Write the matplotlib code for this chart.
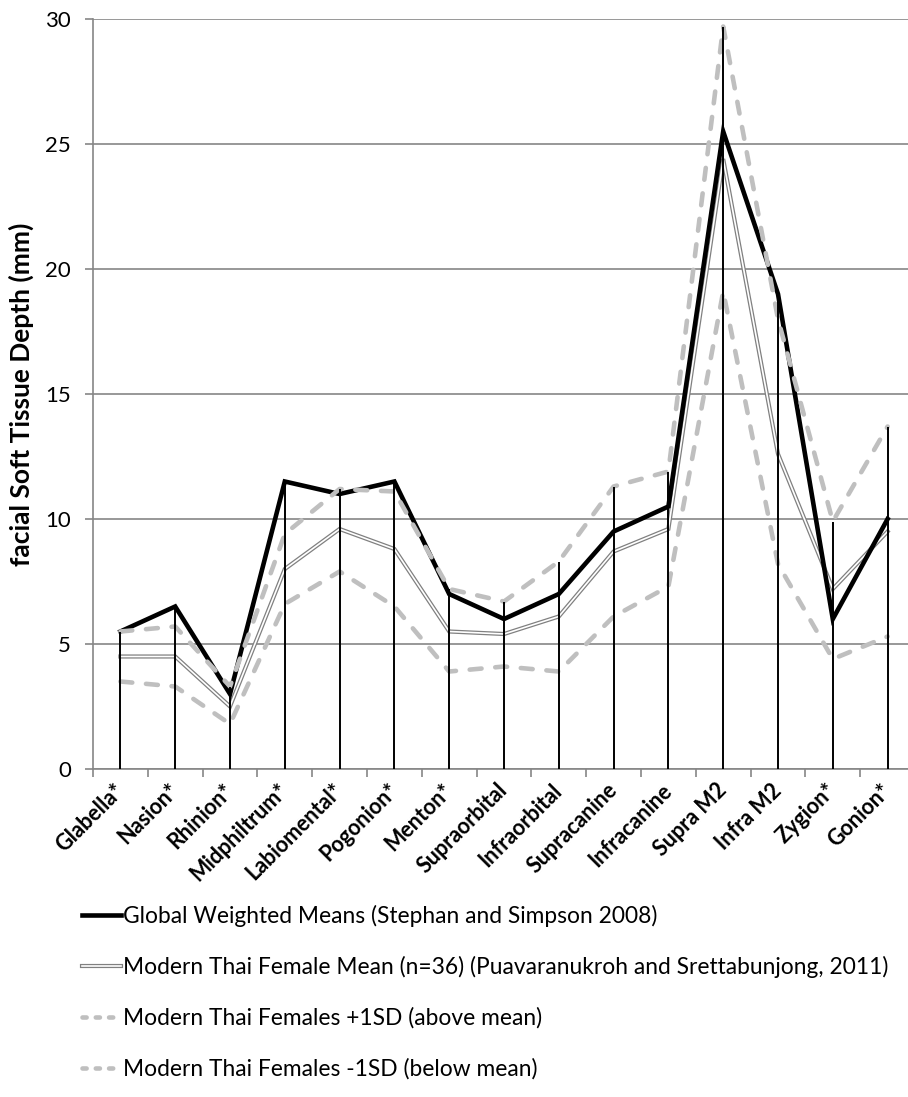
import matplotlib
matplotlib.use("Agg")
import matplotlib.pyplot as plt
from matplotlib.legend_handler import HandlerTuple
from matplotlib.lines import Line2D
import numpy as np

plt.rcParams['font.family'] = ['Lato', 'DejaVu Sans']

# Landmarks (asterisk = significant difference)
landmarks = ["Glabella*", "Nasion*", "Rhinion*", "Midphiltrum*", "Labiomental*",
             "Pogonion*", "Menton*", "Supraorbital", "Infraorbital", "Supracanine",
             "Infracanine", "Supra M2", "Infra M2", "Zygion*", "Gonion*"]

# Soft tissue depths (mm)
global_means = [5.5, 6.5, 3.0, 11.5, 11.0, 11.5, 7.0, 6.0, 7.0, 9.5, 10.5, 25.5, 19.0, 6.0, 10.0]
thai_mean = [4.5, 4.5, 2.5, 8.0, 9.6, 8.8, 5.5, 5.4, 6.1, 8.7, 9.6, 24.4, 12.6, 7.2, 9.5]
thai_plus_sd = [5.5, 5.7, 3.3, 9.4, 11.2, 11.1, 7.2, 6.7, 8.3, 11.3, 11.9, 29.7, 18.0, 9.9, 13.7]
thai_minus_sd = [3.5, 3.3, 1.8, 6.6, 7.9, 6.5, 3.9, 4.1, 3.9, 6.1, 7.3, 19.1, 8.2, 4.4, 5.3]

y_ticks = [0, 5, 10, 15, 20, 25, 30]

labels = ["Global Weighted Means (Stephan and Simpson 2008)",
          "Modern Thai Female Mean (n=36) (Puavaranukroh and Srettabunjong, 2011)",
          "Modern Thai Females +1SD (above mean)",
          "Modern Thai Females -1SD (below mean)"]

GRID = "#868686"
LIGHT = "#BFBFBF"
MID = "#808080"
FS_TICK = 16
FS_CAT = 15.5
FS_LEG = 16.4
FS_YLAB = 19

W, H = 908, 1097
fig = plt.figure(figsize=(W / 100, H / 100), dpi=100)
ax = fig.add_axes([93 / W, (H - 769) / H, 822 / W, 750 / H])

x = np.arange(len(landmarks))

ax.set_xlim(-0.5, len(landmarks) - 0.5)
ax.set_ylim(0, 30)
ax.set_yticks(y_ticks)
ax.yaxis.grid(True, color=GRID, lw=1.2, zorder=0)
ax.set_axisbelow(True)

for s in ["top", "right"]:
    ax.spines[s].set_visible(False)
for s in ["left", "bottom"]:
    ax.spines[s].set_color(GRID)
    ax.spines[s].set_linewidth(1.2)

ax.tick_params(axis="y", length=6, width=1.2, color=GRID, labelsize=FS_TICK, pad=10)
ax.set_xticks(x)
ax.set_xticks(np.arange(-0.5, len(landmarks), 1.0), minor=True)
ax.tick_params(axis="x", which="major", length=0, pad=13)
ax.tick_params(axis="x", which="minor", length=6, width=1.2, color=GRID)
ax.set_xticklabels(landmarks, rotation=45, ha="right", va="center",
                   rotation_mode="anchor", fontsize=FS_CAT, fontweight="bold")

ax.set_ylabel("facial Soft Tissue Depth (mm)", fontsize=FS_YLAB, fontweight="bold", labelpad=8)

# Series
l_global, = ax.plot(x, global_means, color="black", lw=3.3, solid_joinstyle="miter", zorder=3)
l_thai_o, = ax.plot(x, thai_mean, color=MID, lw=3.0, solid_joinstyle="miter", zorder=2)
l_thai_i, = ax.plot(x, thai_mean, color="white", lw=1.2, solid_joinstyle="miter", zorder=2.1)
ax.plot(x, thai_plus_sd, color=LIGHT, lw=3.3, dashes=(2.6, 3.0),
        dash_capstyle="round", zorder=4)
ax.plot(x, thai_minus_sd, color=LIGHT, lw=3.3, dashes=(2.6, 3.0),
        dash_capstyle="round", zorder=4)

# High-low lines from the baseline to the highest series value
tops = np.max(np.vstack([global_means, thai_mean, thai_plus_sd, thai_minus_sd]), axis=0)
ax.vlines(x, 0, tops, color="black", lw=1.4, zorder=5)

# Legend keys for the dashed series use a shorter dash so three dashes fit
key_dash = dict(color=LIGHT, lw=3.3, dashes=(0.9, 2.0), dash_capstyle="round")
k_plus = Line2D([], [], **key_dash)
k_minus = Line2D([], [], **key_dash)

leg = fig.legend([l_global, (l_thai_o, l_thai_i), k_plus, k_minus], labels,
                 handler_map={tuple: HandlerTuple(ndivide=1, pad=0)},
                 loc="upper left", bbox_to_anchor=(82 / W, 1 - 905 / H),
                 frameon=False, fontsize=FS_LEG, handlelength=1.7, handletextpad=0.12,
                 labelspacing=1.28, borderpad=0, borderaxespad=0)

fig.savefig("out.png", dpi=100)
